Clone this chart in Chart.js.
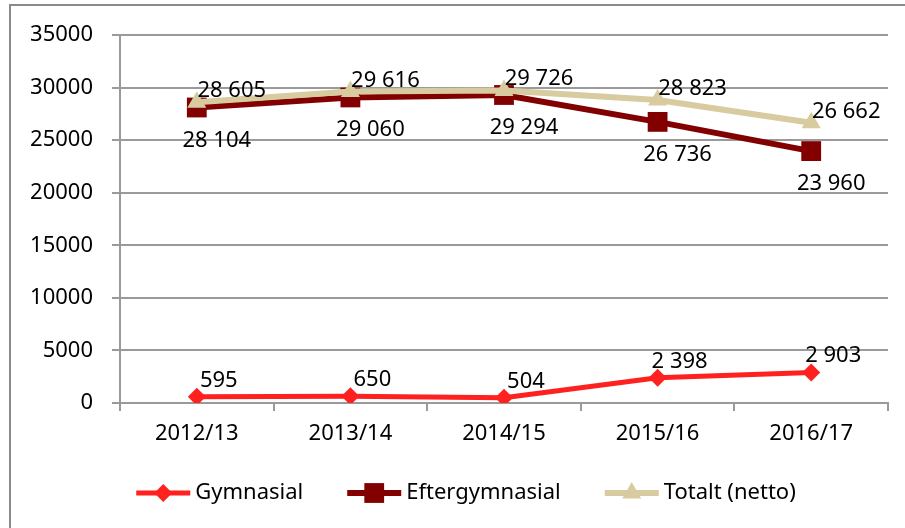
<!DOCTYPE html>
<html>
<head>
<meta charset="utf-8">
<script src="https://cdn.jsdelivr.net/npm/chart.js@4.4.0/dist/chart.umd.min.js"></script>
<style>
  html, body { margin: 0; padding: 0; background: #fff; }
  #wrap { width: 905px; height: 528px; position: relative; }
</style>
</head>
<body>
<div id="wrap"><canvas id="chart"></canvas></div>
<script>
// data
const categories = ['2012/13', '2013/14', '2014/15', '2015/16', '2016/17'];
const gymnasial = [595, 650, 504, 2398, 2903];
const eftergymnasial = [28104, 29060, 29294, 26736, 23960];
const totalt = [28605, 29616, 29726, 28823, 26662];
const yTicks = [0, 5000, 10000, 15000, 20000, 25000, 30000, 35000];

const FONT = '"Noto Sans", sans-serif';
const FSIZE = 22;
const gridColor = '#9a9a9a';

// "28605" -> "28 605"
function fmt(v) {
  return String(v).replace(/\B(?=(\d{3})+(?!\d))/g, ' ');
}

function drawMarker(ctx, style, x, y, r, color) {
  ctx.save();
  ctx.fillStyle = color;
  ctx.beginPath();
  if (style === 'rectRot') {
    ctx.moveTo(x - r, y); ctx.lineTo(x, y - r); ctx.lineTo(x + r, y); ctx.lineTo(x, y + r);
  } else if (style === 'rect') {
    const s = r * Math.SQRT1_2;
    ctx.rect(x - s, y - s, 2 * s, 2 * s);
  } else {
    const h = Math.sin(Math.PI / 3) * r;
    ctx.moveTo(x, y - r); ctx.lineTo(x + h, y + r / 2); ctx.lineTo(x - h, y + r / 2);
  }
  ctx.closePath();
  ctx.fill();
  ctx.restore();
}

// value labels next to each point
const labelOffsets = [
  { dx: 22, dy: -10 },  // Gymnasial: above right
  { dx: 20, dy: 39 },   // Eftergymnasial: below
  { dx: 35, dy: -5 }    // Totalt: above right
];

const valueLabels = {
  id: 'valueLabels',
  afterDatasetsDraw(chart) {
    const ctx = chart.ctx;
    ctx.save();
    ctx.font = FSIZE + 'px ' + FONT;
    ctx.fillStyle = '#000';
    ctx.textAlign = 'center';
    ctx.textBaseline = 'alphabetic';
    chart.data.datasets.forEach((ds, i) => {
      const meta = chart.getDatasetMeta(i);
      const off = labelOffsets[i];
      meta.data.forEach((pt, j) => {
        ctx.fillText(fmt(ds.data[j]), pt.x + off.dx, pt.y + off.dy);
      });
    });
    ctx.restore();
  }
};

// legend drawn as line + marker like the original
const lineLegend = {
  id: 'lineLegend',
  afterDraw(chart) {
    const ctx = chart.ctx;
    const y = 493;
    const lineW = 54, gap = 5, spacing = 44;
    ctx.save();
    ctx.font = FSIZE + 'px ' + FONT;
    const items = chart.data.datasets.map(ds => ({ ds, w: ctx.measureText(ds.label).width }));
    const total = items.reduce((s, it) => s + lineW + gap + it.w, 0) + spacing * (items.length - 1);
    let x = 466 - total / 2;
    items.forEach(it => {
      const ds = it.ds;
      ctx.strokeStyle = ds.borderColor;
      ctx.lineWidth = ds.borderWidth;
      ctx.beginPath();
      ctx.moveTo(x, y);
      ctx.lineTo(x + lineW, y);
      ctx.stroke();
      drawMarker(ctx, ds.pointStyle, x + lineW / 2, y, ds.pointRadius, ds.pointBackgroundColor);
      ctx.fillStyle = '#000';
      ctx.textAlign = 'left';
      ctx.textBaseline = 'middle';
      ctx.fillText(ds.label, x + lineW + gap, y);
      x += lineW + gap + it.w + spacing;
    });
    ctx.restore();
  }
};

// outer frame of the pasted chart
const frame = {
  id: 'frame',
  beforeDraw(chart) {
    const ctx = chart.ctx;
    ctx.save();
    ctx.fillStyle = '#fff';
    ctx.fillRect(0, 0, chart.width, chart.height);
    ctx.strokeStyle = '#8a8a8a';
    ctx.lineWidth = 2;
    ctx.beginPath();
    ctx.moveTo(10, chart.height);
    ctx.lineTo(10, 5);
    ctx.lineTo(chart.width, 5);
    ctx.stroke();
    ctx.restore();
  }
};

const ctx = document.getElementById('chart').getContext('2d');
new Chart(ctx, {
  type: 'line',
  data: {
    labels: categories,
    datasets: [
      {
        label: 'Gymnasial',
        data: gymnasial,
        borderColor: '#ff2020',
        backgroundColor: '#ff2020',
        pointBackgroundColor: '#ff2020',
        pointBorderWidth: 0,
        borderWidth: 5,
        pointStyle: 'rectRot',
        pointRadius: 9,
        order: 2
      },
      {
        label: 'Eftergymnasial',
        data: eftergymnasial,
        borderColor: '#820000',
        backgroundColor: '#820000',
        pointBackgroundColor: '#820000',
        pointBorderWidth: 0,
        borderWidth: 6,
        pointStyle: 'rect',
        pointRadius: 14,
        order: 1
      },
      {
        label: 'Totalt (netto)',
        data: totalt,
        borderColor: '#d7cb9f',
        backgroundColor: '#d7cb9f',
        pointBackgroundColor: '#d7cb9f',
        pointBorderWidth: 0,
        borderWidth: 6,
        pointStyle: 'triangle',
        pointRadius: 11,
        order: 0
      }
    ]
  },
  options: {
    responsive: true,
    maintainAspectRatio: false,
    animation: false,
    layout: { padding: { left: 10, top: 35, right: 17, bottom: 75 } },
    plugins: {
      legend: { display: false },
      tooltip: { enabled: false }
    },
    elements: { line: { tension: 0 } },
    scales: {
      x: {
        offset: true,
        afterFit: s => { s.height = 50; },
        grid: { offset: true, drawOnChartArea: false, drawTicks: true, tickLength: 8, color: gridColor, lineWidth: 2 },
        border: { color: gridColor, width: 2 },
        ticks: { color: '#000', font: { family: FONT, size: FSIZE }, padding: 10, maxRotation: 0 }
      },
      y: {
        min: 0,
        max: 35000,
        afterFit: s => { s.width = 110; },
        afterBuildTicks: s => { s.ticks = yTicks.map(v => ({ value: v })); },
        grid: { color: gridColor, lineWidth: 2, drawTicks: true, tickLength: 8 },
        border: { color: gridColor, width: 2 },
        ticks: {
          color: '#000',
          font: { family: FONT, size: FSIZE },
          padding: 19,
          callback: v => String(v)
        }
      }
    }
  },
  plugins: [frame, valueLabels, lineLegend]
});
</script>
</body>
</html>
